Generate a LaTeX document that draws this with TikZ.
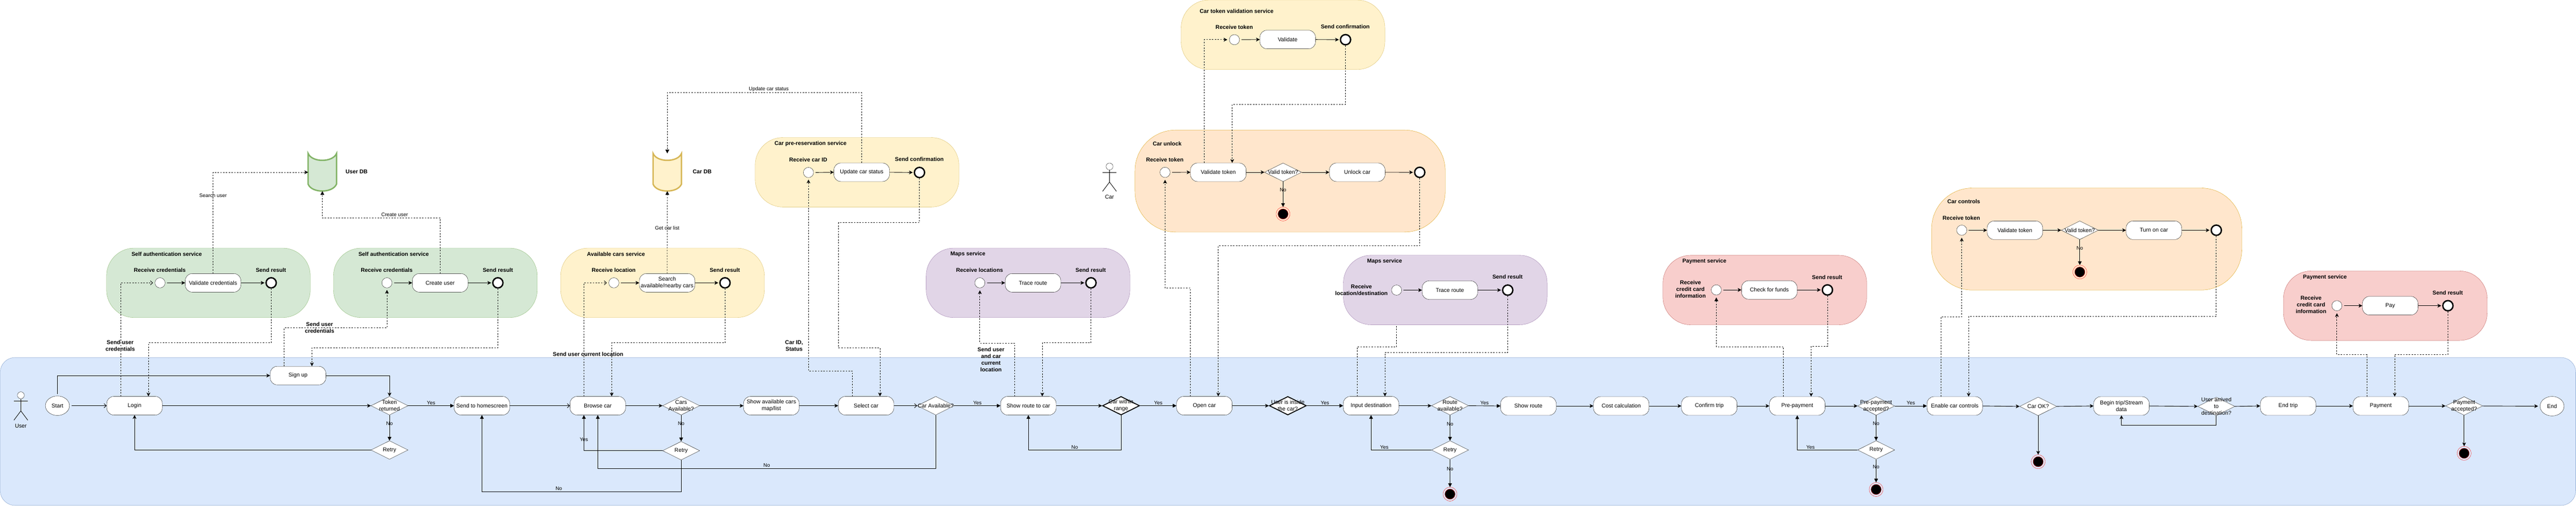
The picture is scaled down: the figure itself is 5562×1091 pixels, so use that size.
\documentclass[tikz,border=0pt]{standalone}
\usepackage{fontspec}
\setmainfont{Liberation Sans}
\usepackage{tikz}
\usetikzlibrary{arrows.meta,shapes.geometric}
\definecolor{lanefill}{HTML}{DAE8FC}
\definecolor{lanedraw}{HTML}{6C8EBF}
\definecolor{greenfill}{HTML}{D5E8D4}
\definecolor{greendraw}{HTML}{82B366}
\definecolor{yellowfill}{HTML}{FFF2CC}
\definecolor{yellowdraw}{HTML}{D6B656}
\definecolor{orangefill}{HTML}{FFE6CC}
\definecolor{orangedraw}{HTML}{D79B00}
\definecolor{purplefill}{HTML}{E1D5E7}
\definecolor{purpledraw}{HTML}{9673A6}
\definecolor{redfill}{HTML}{F8CECC}
\definecolor{reddraw}{HTML}{B85450}
\tikzstyle{lane} = [rectangle, rounded corners=32pt, minimum width=5561pt, minimum height=319pt, inner sep=0, draw=lanedraw, fill=lanefill]
\tikzstyle{service} = [rectangle, rounded corners=60pt, minimum width=440pt, minimum height=150pt, inner sep=0]
\tikzstyle{svcwide} = [rectangle, rounded corners=88pt, minimum width=670pt, minimum height=220pt, inner sep=0, draw=orangedraw, fill=orangefill]
\tikzstyle{boxy} = [rectangle, rounded corners=15pt, minimum width=120pt, minimum height=40pt, inner sep=0, align=center, draw=black, fill=white]
\tikzstyle{ovalend} = [ellipse, minimum width=52pt, minimum height=42pt, inner sep=0, draw=black, fill=white]
\tikzstyle{check} = [diamond, minimum width=80pt, minimum height=40pt, inner sep=0, draw=black, fill=white]
\tikzstyle{checkthick} = [check, line width=2pt]
\tikzstyle{checktext} = [align=center]
\tikzstyle{initdot} = [circle, minimum size=22pt, inner sep=0, draw=black, fill=white]
\tikzstyle{senddot} = [circle, minimum size=22pt, inner sep=0, line width=3pt, draw=black, fill=white]
\tikzstyle{stopdot} = [circle, minimum size=30pt, inner sep=0, draw=red, path picture={\fill[black,draw=red] (path picture bounding box.center) circle (11pt);}]
\tikzstyle{boldtext} = [font=\fontsize{12}{14.5}\selectfont\bfseries, align=center, inner sep=0]
\tikzstyle{plaintext} = [inner sep=0, align=center]
\tikzstyle{edgetext} = [font=\fontsize{11}{13}\selectfont, inner sep=2pt]
\tikzstyle{dbcan} = [rectangle, minimum width=61pt, minimum height=81pt, inner sep=0]
\tikzstyle{arrow} = [line width=1pt,-{Stealth[length=8pt,width=8pt,inset=2pt]}]
\tikzstyle{arrowblock} = [line width=1pt,-{Triangle[length=8pt,width=8pt]}]
\tikzstyle{arrowopen} = [line width=1pt,-{Straight Barb[length=5pt,width=9pt]}]
\tikzstyle{dashy} = [line width=1pt,dash pattern=on 3pt off 3pt]
\begin{document}
\begin{tikzpicture}[x=1pt,y=-1pt,every node/.style={font=\fontsize{12}{14.5}\selectfont}]
        \useasboundingbox (0,0) rectangle (5562,1091);
        \node (userlane) [lane] at (2781,930.5) {};
        % services
        \node (authsvc) [service,draw=greendraw,fill=greenfill] at (450,610) {};
        \node (signsvc) [service,draw=greendraw,fill=greenfill] at (940,610) {};
        \node (carssvc) [service,draw=yellowdraw,fill=yellowfill] at (1430.5,610) {};
        \node (presvc) [service,draw=yellowdraw,fill=yellowfill] at (1850.5,371.5) {};
        \node (mapssvc) [service,draw=purpledraw,fill=purplefill] at (2219.7,610) {};
        \node (toksvc) [service,draw=yellowdraw,fill=yellowfill] at (2770.2,75) {};
        \node (unlocksvc) [svcwide] at (2785.5,390.5) {};
        \node (destsvc) [service,draw=purpledraw,fill=purplefill] at (3120.6,625.4) {};
        \node (fundsvc) [service,draw=reddraw,fill=redfill] at (3810.5,625.5) {};
        \node (ctrlsvc) [svcwide] at (4505.5,515.5) {};
        \node (paysvc) [service,draw=reddraw,fill=redfill] at (5150.3,659.3) {};
        % service and database titles
        \node (authttl) [boldtext] at (360,548) {Self authentication service};
        \node (signttl) [boldtext] at (850,548) {Self authentication service};
        \node (carsttl) [boldtext] at (1330,548) {Available cars service};
        \node (prettl) [boldtext] at (1750,310) {Car pre-reservation service};
        \node (mapsttl) [boldtext] at (2090,548) {Maps service};
        \node (tokttl) [boldtext] at (2670,23.7) {Car token validation service};
        \node (unlockttl) [boldtext] at (2520,309.7) {Car unlock};
        \node (destttl) [boldtext] at (2989.6,563.8) {Maps service};
        \node (fundttl) [boldtext] at (3680,563.6) {Payment service};
        \node (ctrlttl) [boldtext] at (4240,434.4) {Car controls};
        \node (payttl) [boldtext] at (5019.8,597.6) {Payment service};
        \node (userdbttl) [boldtext] at (770,370.5) {User DB};
        \node (cardbttl) [boldtext] at (1516,370.5) {Car DB};
        % receive and send captions
        \node (recvcap1) [boldtext] at (345,583) {Receive credentials};
        \node (sendcap1) [boldtext] at (585,583) {Send result};
        \node (recvcap2) [boldtext] at (835,583) {Receive credentials};
        \node (sendcap2) [boldtext] at (1075,583) {Send result};
        \node (recvcap3) [boldtext] at (1325,583) {Receive location};
        \node (sendcap3) [boldtext] at (1565,583) {Send result};
        \node (recvcap4) [boldtext] at (1745,344.6) {Receive car ID};
        \node (sendcap4) [boldtext] at (1985,343.6) {Send confirmation};
        \node (recvcap5) [boldtext] at (2115,583) {Receive locations};
        \node (sendcap5) [boldtext] at (2355,583) {Send result};
        \node (recvcap6) [boldtext] at (2665,59) {Receive token};
        \node (sendcap6) [boldtext] at (2904.6,57.8) {Send confirmation};
        \node (recvcap7) [boldtext] at (2515,344.5) {Receive token};
        \node (recvcap8) [boldtext] at (2939.6,625) {Receive\\location/destination};
        \node (sendcap8) [boldtext] at (3255,597) {Send result};
        \node (recvcap9) [boldtext] at (3650,623.5) {Receive\\credit card\\information};
        \node (sendcap9) [boldtext] at (3945,597.6) {Send result};
        \node (recvcap10) [boldtext] at (4234.7,469.8) {Receive token};
        \node (recvcap11) [boldtext] at (4989.8,657.3) {Receive\\credit card\\information};
        \node (sendcap11) [boldtext] at (5285,631.6) {Send result};
        % message captions
        \node (msgcap1) [boldtext] at (259.5,745) {Send user\\credentials};
        \node (msgcap2) [boldtext] at (690,706) {Send user\\credentials};
        \node (msgcap3) [boldtext] at (1269.7,763.4) {Send user current location};
        \node (msgcap4) [boldtext] at (1714.6,746) {Car ID,\\Status};
        \node (msgcap5) [boldtext] at (2139.7,775) {Send user\\and car\\current\\location};
        % databases
        \node (userdb) [dbcan] at (696,371.5) {};
        \node (cardb) [dbcan] at (1440.8,371.5) {};
        \draw [line width=3pt,draw=greendraw,fill=greenfill] (userdb.north west) .. controls +(8,20) and +(-8,20) .. (userdb.north east) -- ++(0,66) .. controls +(-8,20) and +(8,20) .. ([yshift=15pt]userdb.south west) -- cycle;
        \draw [line width=3pt,draw=yellowdraw,fill=yellowfill] (cardb.north west) .. controls +(8,20) and +(-8,20) .. (cardb.north east) -- ++(0,66) .. controls +(-8,20) and +(8,20) .. ([yshift=15pt]cardb.south west) -- cycle;
        % actors
        \node (userhead) [circle,minimum size=15pt,inner sep=0,draw=black,fill=white] at (45,852.5) {};
        \draw [line width=1pt] (userhead.south) -- ++(0,26) -- ++(-15,20) ++(15,-20) -- ++(15,20);
        \draw [line width=1pt] (userhead.south) ++(-15,5) -- ++(30,0);
        \node (usercap) [plaintext] at (45,918.5) {User};
        \node (carhead) [circle,minimum size=15pt,inner sep=0,draw=black,fill=white] at (2395.6,359) {};
        \draw [line width=1pt] (carhead.south) -- ++(0,26) -- ++(-15,20) ++(15,-20) -- ++(15,20);
        \draw [line width=1pt] (carhead.south) ++(-15,5) -- ++(30,0);
        \node (carcap) [plaintext] at (2395.6,424.8) {Car};
        % inside the services
        \node (recv1) [initdot] at (345.5,610) {};
        \node (validcred) [boxy] at (460,610) {Validate credentials};
        \node (sent1) [senddot] at (585.5,610) {};
        \node (recv2) [initdot] at (835.5,610) {};
        \node (createuser) [boxy] at (950.3,610) {Create user};
        \node (sent2) [senddot] at (1075,610) {};
        \node (recv3) [initdot] at (1325.4,610) {};
        \node (searchcars) [boxy] at (1440.5,610) {Search\\available/nearby cars};
        \node (sent3) [senddot] at (1565.4,610) {};
        \node (recv4) [initdot] at (1745.6,372) {};
        \node (updstatus) [boxy] at (1860.5,371.5) {Update car status};
        \node (sent4) [senddot] at (1985.3,372) {};
        \node (recv5) [initdot] at (2115.6,610) {};
        \node (traceroute) [boxy] at (2230.4,610) {Trace route};
        \node (sent5) [senddot] at (2355.6,610) {};
        \node (recv6) [initdot] at (2665.3,85.6) {};
        \node (validate) [boxy] at (2780.3,85.3) {Validate};
        \node (sent6) [senddot] at (2905.2,85.6) {};
        \node (recv7) [initdot] at (2515.5,371.7) {};
        \node (valtok) [boxy] at (2630.5,371.5) {Validate token};
        \node (tokchk) [check,label={[checktext]center:Valid token?}] at (2770.3,371.5) {};
        \node (unlockcar) [boxy] at (2930.5,371.5) {Unlock car};
        \node (sent7) [senddot] at (3065.4,371.7) {};
        \node (stop1) [stopdot] at (2770.3,461.5) {};
        \node (recv8) [initdot] at (3015.4,625.7) {};
        \node (traceroute2) [boxy] at (3130.5,625.7) {Trace route};
        \node (sent8) [senddot] at (3255.4,625.7) {};
        \node (recv9) [initdot] at (3705.8,625.3) {};
        \node (checkfunds) [boxy] at (3820.3,625.3) {Check for funds};
        \node (sent9) [senddot] at (3945.7,625.3) {};
        \node (recv10) [initdot] at (4235.7,496.5) {};
        \node (valtok2) [boxy] at (4350.5,496.5) {Validate token};
        \node (tokchk2) [check,label={[checktext]center:Valid token?}] at (4490.6,496.5) {};
        \node (turnon) [boxy] at (4650.6,496.5) {Turn on car};
        \node (sent10) [senddot] at (4785.3,496.5) {};
        \node (stop2) [stopdot] at (4490.6,586.7) {};
        \node (recv11) [initdot] at (5045.7,659.3) {};
        \node (pay) [boxy] at (5160.8,659.3) {Pay};
        \node (sent11) [senddot] at (5285.4,659.3) {};
        % user lane
        \node (start) [ovalend] at (124,875) {Start};
        \node (login) [boxy] at (290.5,875) {Login};
        \node (signup) [boxy] at (643.5,810) {Sign up};
        \node (tokret) [check,label={[checktext]center:Token\\returned}] at (841,875) {};
        \node (retry1) [check,label={[checktext]center:Retry}] at (841,970.5) {};
        \node (sendhome) [boxy] at (1040.5,875) {Send to homescreen};
        \node (browse) [boxy] at (1290.7,875) {Browse car};
        \node (carsavail) [check,label={[checktext]center:Cars\\Available?}] at (1470.7,875) {};
        \node (retry2) [check,label={[checktext]center:Retry}] at (1470.7,972) {};
        \node (showcars) [boxy] at (1665.5,875) {Show available cars\\map/list};
        \node (selectcar) [boxy] at (1870,875) {Select car};
        \node (caravail) [check,label={[checktext]center:Car Available?}] at (2020.4,875) {};
        \node (showcarrt) [boxy] at (2220.4,875) {Show route to car};
        \node (inrange) [checkthick,label={[checktext]center:Car within\\range}] at (2420.5,875) {};
        \node (opencar) [boxy] at (2600.4,875) {Open car};
        \node (inside) [checkthick,label={[checktext]center:User is inside\\the car?}] at (2780.6,875) {};
        \node (inputdest) [boxy] at (2960.3,875) {Input destination};
        \node (routeok) [check,label={[checktext]center:Route\\available?}] at (3130.8,875) {};
        \node (retry3) [check,label={[checktext]center:Retry}] at (3130.8,970.5) {};
        \node (stop3) [stopdot] at (3130.8,1065.6) {};
        \node (showroute) [boxy] at (3300,875.5) {Show route};
        \node (costcalc) [boxy] at (3500.5,875.5) {Cost calculation};
        \node (confirm) [boxy] at (3690.5,875.5) {Confirm trip};
        \node (prepay) [boxy] at (3880.5,875.5) {Pre-payment};
        \node (prepaychk) [check,label={[checktext]center:Pre-payment\\accepted?}] at (4050.8,875.5) {};
        \node (retry4) [check,label={[checktext]center:Retry}] at (4050.8,970.4) {};
        \node (stop4) [stopdot] at (4050.8,1055.6) {};
        \node (enable) [boxy] at (4220.6,875.5) {Enable car controls};
        \node (carok) [check,label={[checktext]center:Car OK?}] at (4400.7,876.4) {};
        \node (stop5) [stopdot] at (4400.7,995.7) {};
        \node (begintrip) [boxy] at (4580.5,875.5) {Begin trip/Stream\\data};
        \node (arrived) [check,label={[checktext]center:User arrived\\to\\destination?}] at (4785.4,876.4) {};
        \node (endtrip) [boxy] at (4940.3,875.5) {End trip};
        \node (payment) [boxy] at (5140.5,875.5) {Payment};
        \node (paychk) [check,label={[checktext]center:Payment\\accepted?}] at (5320.4,875.5) {};
        \node (stop6) [stopdot] at (5320.4,977.6) {};
        \node (finish) [ovalend] at (5510.3,876) {End};
        \coordinate (destgap) at (3015.4,703);
        %
        \draw [arrow,shorten <=4pt] (recv1.east) -- (validcred.west);
        \draw [arrow,shorten >=2pt] (validcred.east) -- (sent1.west);
        \draw [arrow,shorten <=4pt] (recv2.east) -- (createuser.west);
        \draw [arrow,shorten >=2pt] (createuser.east) -- (sent2.west);
        \draw [arrow,shorten <=4pt] (recv3.east) -- (searchcars.west);
        \draw [arrow,shorten >=2pt] (searchcars.east) -- (sent3.west);
        \draw [arrow,shorten <=4pt] (recv4.east) -- (updstatus.west);
        \draw [arrow,shorten >=2pt] (updstatus.east) -- (sent4.west);
        \draw [arrow,shorten <=4pt] (recv5.east) -- (traceroute.west);
        \draw [arrow,shorten >=2pt] (traceroute.east) -- (sent5.west);
        \draw [arrow,shorten <=4pt] (recv6.east) -- (validate.west);
        \draw [arrow,shorten >=2pt] (validate.east) -- (sent6.west);
        \draw [arrow,shorten <=4pt] (recv7.east) -- (valtok.west);
        \draw [arrow] (valtok.east) -- (tokchk.west);
        \draw [arrow] (tokchk.east) -- (unlockcar.west);
        \draw [arrow,shorten >=2pt] (unlockcar.east) -- (sent7.west);
        \draw [arrowblock] (tokchk.south) -- node[edgetext,pos=.33] {No} (stop1.north);
        \draw [arrow,shorten <=4pt] (recv8.east) -- (traceroute2.west);
        \draw [arrow,shorten >=2pt] (traceroute2.east) -- (sent8.west);
        \draw [arrow,shorten <=4pt] (recv9.east) -- (checkfunds.west);
        \draw [arrow,shorten >=2pt] (checkfunds.east) -- (sent9.west);
        \draw [arrow,shorten <=4pt] (recv10.east) -- (valtok2.west);
        \draw [arrow] (valtok2.east) -- (tokchk2.west);
        \draw [arrow] (tokchk2.east) -- (turnon.west);
        \draw [arrow,shorten >=2pt] (turnon.east) -- (sent10.west);
        \draw [arrowblock] (tokchk2.south) -- node[edgetext,pos=.33] {No} (stop2.north);
        \draw [arrow,shorten <=4pt] (recv11.east) -- (pay.west);
        \draw [arrow,shorten >=2pt] (pay.east) -- (sent11.west);
        %
        \draw [arrowopen,shorten <=4pt] (start.east) -- (login.west);
        \draw [arrow,shorten <=4pt] (start.north) |- (signup.west);
        \draw [arrow] (signup.east) -| (tokret.north);
        \draw [arrow] (login.east) -- (tokret.west);
        \draw [arrowblock] (tokret.south) -- node[edgetext,pos=.33] {No} (retry1.north);
        \draw [arrow] (retry1.west) -| (login.south);
        \draw [arrowblock] (tokret.east) -- node[edgetext,above] {Yes} (sendhome.west);
        \draw [arrowopen] (sendhome.east) -- (browse.west);
        \draw [arrow] (browse.east) -- (carsavail.west);
        \draw [arrowblock] (carsavail.south) -- node[edgetext,pos=.33] {No} (retry2.north);
        \draw [arrow] (carsavail.east) -- (showcars.west);
        \draw [arrowblock] (retry2.west) -| node[edgetext,pos=.655] {Yes} ([xshift=-30pt]browse.south);
        \draw [arrowblock] (retry2.south) -- ++(0,68) -| node[edgetext,pos=.307,above] {No} (sendhome.south);
        \draw [arrow] (showcars.east) -- (selectcar.west);
        \draw [arrowopen] (selectcar.east) -- (caravail.west);
        \draw [arrowblock] (caravail.east) -- node[edgetext,above] {Yes} (showcarrt.west);
        \draw [arrowblock] (caravail.south) -- ++(0,115) -| node[edgetext,pos=.25,above] {No} (browse.south);
        \draw [arrow] (showcarrt.east) -- (inrange.west);
        \draw [arrowblock] (inrange.south) -- ++(0,75) -| node[edgetext,pos=.25,above] {No} (showcarrt.south);
        \draw [arrowblock] (inrange.east) -- node[edgetext,above] {Yes} (opencar.west);
        \draw [arrow] (opencar.east) -- (inside.west);
        \draw [arrowblock] (inside.east) -- node[edgetext,above] {Yes} (inputdest.west);
        \draw [arrow] (inputdest.east) -- (routeok.west);
        \draw [arrowblock] (routeok.east) -- node[edgetext,above] {Yes} (showroute.west);
        \draw [arrowblock] (routeok.south) -- node[edgetext,pos=.35] {No} (retry3.north);
        \draw [arrowblock] (retry3.west) -| node[edgetext,pos=.39,above] {Yes} (inputdest.south);
        \draw [arrowblock] (retry3.south) -- node[edgetext,pos=.35] {No} (stop3.north);
        \draw [arrow] (showroute.east) -- (costcalc.west);
        \draw [arrow] (costcalc.east) -- (confirm.west);
        \draw [arrow] (confirm.east) -- (prepay.west);
        \draw [arrow] (prepay.east) -- (prepaychk.west);
        \draw [arrowblock] (prepaychk.south) -- node[edgetext,pos=.33] {No} (retry4.north);
        \draw [arrowblock] (prepaychk.east) -- node[edgetext,above] {Yes} (enable.west);
        \draw [arrowblock] (retry4.west) -| node[edgetext,pos=.39,above] {Yes} (prepay.south);
        \draw [arrowblock] (retry4.south) -- node[edgetext,pos=.33] {No} (stop4.north);
        \draw [arrow] (enable.east) -- (carok.west);
        \draw [arrow] (carok.south) -- (stop5.north);
        \draw [arrow] (carok.east) -- (begintrip.west);
        \draw [arrow] (begintrip.east) -- (arrived.west);
        \draw [arrow] (arrived.south) -- ++(0,20) -| (begintrip.south);
        \draw [arrow] (arrived.east) -- (endtrip.west);
        \draw [arrow] (endtrip.east) -- (payment.west);
        \draw [arrow] (payment.east) -- (paychk.west);
        \draw [arrow] (paychk.south) -- (stop6.north);
        \draw [arrow,shorten >=4pt] (paychk.east) -- (finish.west);
        % messages between lane, services and databases
        \draw [dashy,arrowopen,shorten >=4pt] ([xshift=-30pt]login.north) |- (recv1.west);
        \draw [dashy,arrow] (sent1.south) -- ++(0,117) -| ([xshift=30pt]login.north);
        \draw [dashy,arrow,shorten >=4pt] ([xshift=-30pt]signup.north) -- ++(0,-82.4) -| (recv2.south);
        \draw [dashy,arrow] (sent2.south) -- ++(0,127.5) -| ([xshift=30pt]signup.north);
        \draw [dashy,arrow] (validcred.north) |- node[edgetext,pos=.385] {Search user} (userdb.west);
        \draw [dashy,arrowblock] (createuser.north) -- ++(0,-120) -| node[edgetext,pos=.193,above] {Create user} (userdb.south);
        \draw [dashy,arrowopen,shorten >=4pt] ([xshift=-30pt]browse.north) |- (recv3.west);
        \draw [dashy,arrow] (sent3.south) -- ++(0,117) -| ([xshift=30pt]browse.north);
        \draw [dashy,arrowblock] (searchcars.north) -- node[edgetext,pos=.554] {Get car list} (cardb.south);
        \draw [dashy,arrowblock] (updstatus.north) -- ++(0,-151.5) -| node[edgetext,pos=.239,above] {Update car status} (cardb.north);
        \draw [dashy,arrow,shorten >=4pt] ([xshift=-30pt]selectcar.north) -- ++(0,-55) -| (recv4.south);
        \draw [dashy,arrow] (sent4.south) -- ++(0,95.6) -- ++(-174.5,0) -- ++(0,270) -| ([xshift=30pt]selectcar.north);
        \draw [dashy,arrow,shorten >=5pt] ([xshift=-30pt]showcarrt.north) -- ++(0,-115) -| (recv5.south);
        \draw [dashy,arrow] (sent5.south) -- ++(0,117) -| ([xshift=30pt]showcarrt.north);
        \draw [dashy,arrow,shorten >=4pt] ([xshift=-30pt]valtok.north) |- (recv6.west);
        \draw [dashy,arrow] (sent6.south) -- ++(0,127) -| ([xshift=30pt]valtok.north);
        \draw [dashy,arrow,shorten >=5pt] ([xshift=-30pt]opencar.north) -- ++(0,-233.5) -| (recv7.south);
        \draw [dashy,arrow] (sent7.south) -- ++(0,146) -| ([xshift=30pt]opencar.north);
        \draw [dashy] ([xshift=-30pt]inputdest.north) -- ++(0,-107) -| (destgap);
        \draw [dashy,arrow] (sent8.south) -- ++(0,121.7) -| ([xshift=30pt]inputdest.north);
        \draw [dashy,arrowblock,shorten >=5pt] ([xshift=-30pt]prepay.north) -- ++(0,-107.8) -| (recv9.south);
        \draw [dashy,arrow] (sent9.south) -- ++(0,109.2) -| ([xshift=30pt]prepay.north);
        \draw [dashy,arrow,shorten >=5pt] ([xshift=-30pt]enable.north) -- ++(0,-172.2) -| (recv10.south);
        \draw [dashy,arrow] (sent10.south) -- ++(0,173.8) -| ([xshift=30pt]enable.north);
        \draw [dashy,arrow,shorten >=5pt] ([xshift=-30pt]payment.north) -- ++(0,-90.5) -| (recv11.south);
        \draw [dashy,arrow] (sent11.south) -- ++(0,92.5) -| ([xshift=30pt]payment.north);
    \end{tikzpicture}
\end{document}
